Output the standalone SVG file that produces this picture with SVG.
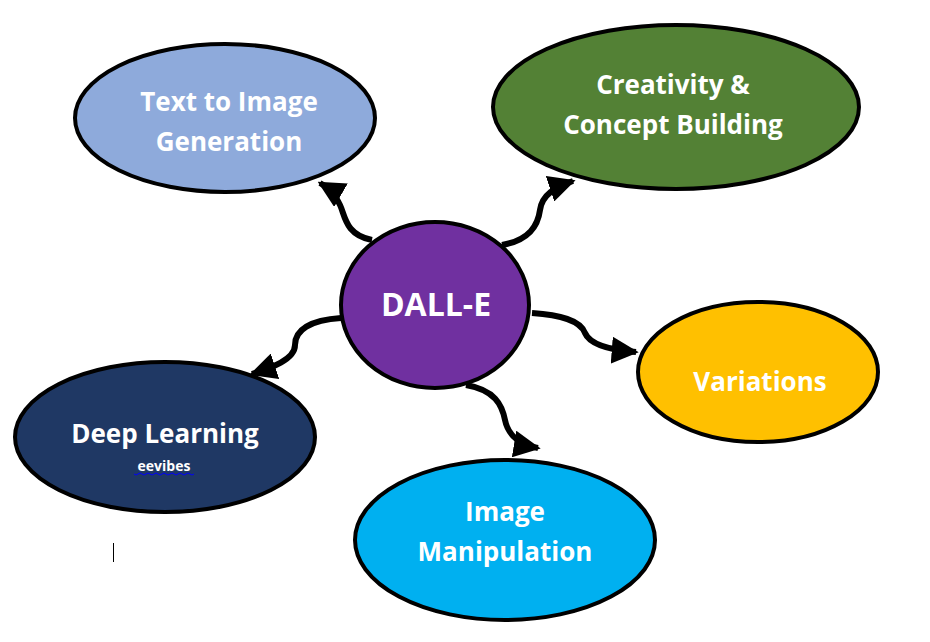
<svg xmlns="http://www.w3.org/2000/svg" width="930" height="642" viewBox="0 0 930 642">
<style>
.n{stroke:#000;stroke-width:4}
.t{font-family:"Open Sans","Liberation Sans",sans-serif;font-weight:bold;fill:#fff;text-anchor:middle}
.c{fill:none;stroke:#000;stroke-width:6;marker-end:url(#ah)}
</style>
<defs>
<marker id="ah" viewBox="0 0 10 10" refX="9" refY="5" markerWidth="4.5" markerHeight="4.5" orient="auto" markerUnits="strokeWidth">
<path d="M0,0L10,5L0,10z" fill="#000"/>
</marker>
</defs>
<rect width="930" height="642" fill="#fff"/>
<g id="connectors">
<path class="c" d="M372,240 C345,235 345,215 340,205 C335,195 332,190 320,183"/>
<path class="c" d="M502,245 C530,240 538,225 540,210 C542,195 555,187 573,181"/>
<path class="c" d="M532,313 C560,315 580,320 585,333 C590,345 610,350 636,352"/>
<path class="c" d="M466,385 C495,390 502,405 505,420 C508,435 520,445 538,448"/>
<path class="c" d="M341,318 C310,320 295,330 295,345 C295,360 270,368 252,374"/>
</g>
<g id="text-to-image"><ellipse class="n" cx="225" cy="118" rx="150" ry="74" fill="#8eaadb"/><text class="t" x="229" y="111" font-size="26">Text to Image</text><text class="t" x="229" y="151" font-size="26">Generation</text></g>
<g id="creativity"><ellipse class="n" cx="676" cy="107" rx="183" ry="82" fill="#538135"/><text class="t" x="673" y="94" font-size="26">Creativity &amp;</text><text class="t" x="673" y="134" font-size="26">Concept Building</text></g>
<g id="variations"><ellipse class="n" cx="758" cy="372" rx="120" ry="70" fill="#ffc000"/><text class="t" x="760" y="391" font-size="26">Variations</text></g>
<g id="deep-learning"><ellipse class="n" cx="165" cy="437" rx="150" ry="75" fill="#1f3864"/><text class="t" x="165" y="443" font-size="26">Deep Learning</text><text class="t" x="164" y="471" font-size="14">eevibes</text><path d="M134,474 q2,2 4,0 t4,0 t4,0 t4,0 t4,0 t4,0 t4,0 t4,0 t4,0 t4,0 t4,0 t4,0 t4,0 t4,0 t4,0" fill="none" stroke="#00f" stroke-width="1"/></g>
<g id="image-manipulation"><ellipse class="n" cx="505" cy="540" rx="150" ry="80" fill="#00b0f0"/><text class="t" x="505" y="521" font-size="26">Image</text><text class="t" x="505" y="561" font-size="26">Manipulation</text></g>
<g id="dalle"><ellipse class="n" cx="435" cy="305" rx="94" ry="83" fill="#7030a0"/><text class="t" x="436" y="316" font-size="32">DALL-E</text></g>
<line x1="113.5" y1="543" x2="113.5" y2="562" stroke="#000" stroke-width="1"/>
</svg>
